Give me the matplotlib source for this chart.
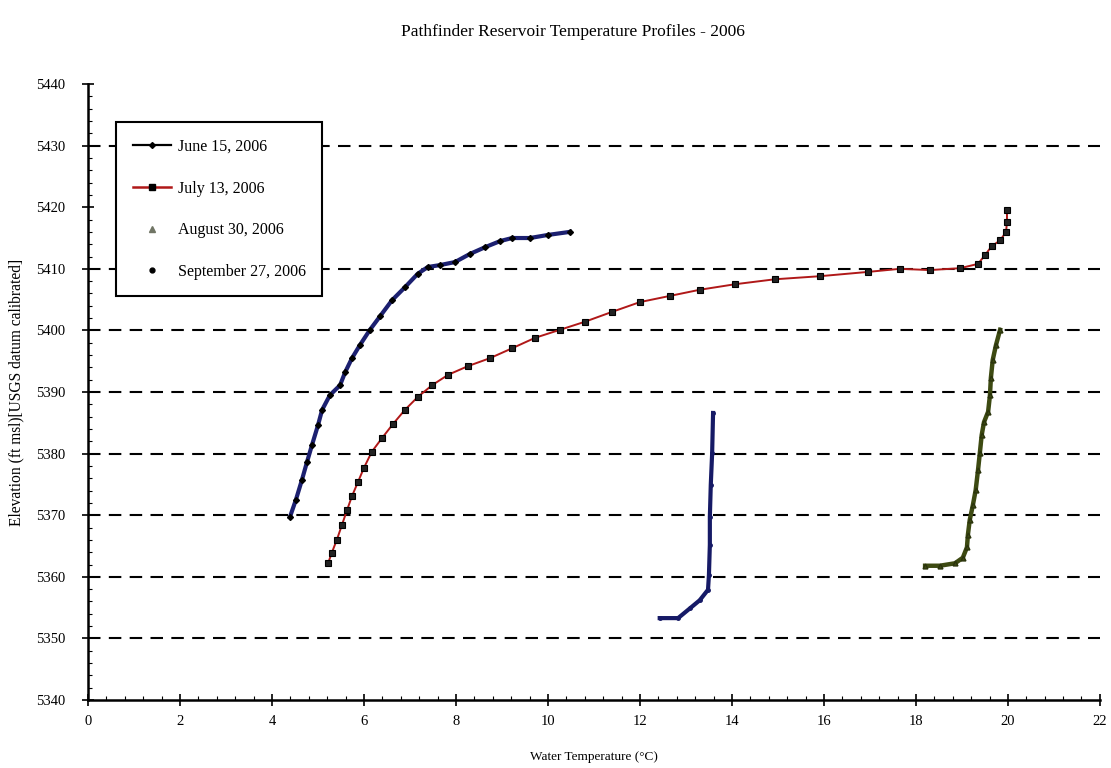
import numpy as np
import matplotlib.pyplot as plt
from matplotlib.lines import Line2D
from matplotlib.ticker import MultipleLocator

plt.rcParams['font.family'] = ['Liberation Serif', 'DejaVu Serif']

# Temperature profiles (water temperature in deg C vs elevation in ft)
jun_temp = [4.39, 4.52, 4.65, 4.76, 4.87, 5.00, 5.09, 5.26, 5.48, 5.59, 5.74, 5.91,
            6.13, 6.35, 6.61, 6.89, 7.17, 7.39, 7.65, 7.98, 8.30, 8.63, 8.96, 9.22,
            9.61, 10.00, 10.48]
jun_elev = [5369.7, 5372.5, 5375.7, 5378.6, 5381.4, 5384.6, 5387.1, 5389.5, 5391.1,
            5393.2, 5395.5, 5397.6, 5400.1, 5402.3, 5404.9, 5407.0, 5409.2, 5410.3,
            5410.6, 5411.1, 5412.4, 5413.5, 5414.5, 5415.0, 5415.0, 5415.5, 5416.0]

jul_temp = [5.22, 5.30, 5.41, 5.52, 5.63, 5.74, 5.87, 6.00, 6.17, 6.39, 6.63, 6.89,
            7.17, 7.48, 7.83, 8.26, 8.74, 9.22, 9.72, 10.26, 10.80, 11.39, 12.00,
            12.65, 13.30, 14.07, 14.93, 15.91, 16.96, 17.65, 18.30, 18.96, 19.35,
            19.50, 19.65, 19.83, 19.96, 19.98, 19.98]
jul_elev = [5362.2, 5363.9, 5366.0, 5368.4, 5370.8, 5373.1, 5375.4, 5377.7, 5380.3,
            5382.5, 5384.8, 5387.1, 5389.2, 5391.1, 5392.8, 5394.2, 5395.5, 5397.1,
            5398.8, 5400.1, 5401.4, 5403.0, 5404.6, 5405.6, 5406.6, 5407.5, 5408.3,
            5408.8, 5409.5, 5410.0, 5409.8, 5410.1, 5410.8, 5412.2, 5413.7, 5414.6,
            5416.0, 5417.6, 5419.5]

aug_temp = [18.20, 18.52, 18.85, 19.02, 19.11, 19.13, 19.17, 19.24, 19.30, 19.35,
            19.39, 19.43, 19.48, 19.57, 19.61, 19.63, 19.67, 19.74, 19.83]
aug_elev = [5361.8, 5361.8, 5362.2, 5363.1, 5364.8, 5366.8, 5369.2, 5371.7, 5374.1,
            5377.3, 5380.1, 5383.0, 5385.1, 5386.8, 5389.5, 5392.3, 5395.2, 5397.6,
            5400.1]

sep_temp = [12.43, 12.83, 13.09, 13.30, 13.48, 13.50, 13.52, 13.52, 13.54, 13.57, 13.59]
sep_elev = [5353.3, 5353.3, 5354.9, 5356.2, 5357.9, 5360.3, 5365.2, 5369.7, 5374.9,
            5380.1, 5386.6]

labels = ['June 15, 2006', 'July 13, 2006', 'August 30, 2006', 'September 27, 2006']
ref_elev = [5350, 5360, 5370, 5380, 5390, 5400, 5410, 5430]

fig = plt.figure(figsize=(11.11, 7.68), dpi=100)
ax = fig.add_axes([0.0792, 0.0885, 0.9108, 0.8021])

for e in ref_elev:
    ax.axhline(e, color='black', lw=1.5, linestyle=(0, (6, 4)), zorder=1)

ax.plot(jun_temp, jun_elev, color='#1c2070', lw=3.0, marker='D', ms=3,
        mfc='black', mec='black', zorder=3)
ax.plot(jul_temp, jul_elev, color='#b01818', lw=1.4, marker='s', ms=4,
        mfc='#222222', mec='black', mew=0.8, zorder=3)
ax.plot(aug_temp, aug_elev, color='#3d4a12', lw=3.2, marker='^', ms=3.5,
        mfc='#3d4a12', mec='#2a330c', zorder=3)
ax.plot(sep_temp, sep_elev, color='#161a66', lw=3.0, marker='o', ms=2.5,
        mfc='#161a66', mec='#161a66', zorder=3)

ax.set_xlim(0, 22)
ax.set_ylim(5340, 5440)
ax.xaxis.set_major_locator(MultipleLocator(2))
ax.xaxis.set_minor_locator(MultipleLocator(0.4))
ax.yaxis.set_major_locator(MultipleLocator(10))
ax.yaxis.set_minor_locator(MultipleLocator(2))
ax.tick_params(which='major', direction='inout', length=9, width=1.2,
               labelsize=10.5, color='black')
ax.tick_params(which='minor', direction='in', length=3, width=0.8)
ax.tick_params(axis='x', which='major', pad=6)
ax.tick_params(axis='y', which='major', pad=12)

for side in ['top', 'right']:
    ax.spines[side].set_visible(False)
for side in ['left', 'bottom']:
    ax.spines[side].set_linewidth(1.8)

ax.set_xlabel('Water Temperature (\u00b0C)', fontsize=9.5, labelpad=17)
ax.set_ylabel('Elevation (ft msl)[USGS datum calibrated]', fontsize=11.2, labelpad=8)
fig.text(0.516, 0.958, 'Pathfinder Reservoir Temperature Profiles - 2006',
         ha='center', va='center', fontsize=12.5)

handles = [
    Line2D([], [], color='black', lw=1.6, marker='D', ms=3, mfc='black'),
    Line2D([], [], color='#b01818', lw=1.8, marker='s', ms=4, mfc='black', mec='black'),
    Line2D([], [], color='none', marker='^', ms=4, mfc='#707565', mec='#707565'),
    Line2D([], [], color='none', marker='o', ms=3.5, mfc='black', mec='black'),
]
leg = ax.legend(handles, labels, loc='upper left', bbox_to_anchor=(0.0277, 0.938),
                fontsize=11.5, frameon=True, fancybox=False, framealpha=1,
                edgecolor='black', labelspacing=1.6, handlelength=2.4,
                borderpad=1.05, borderaxespad=0, handletextpad=0.4)
leg.get_frame().set_linewidth(1.5)
leg.set_zorder(5)

fig.savefig('out.png', dpi=100)
